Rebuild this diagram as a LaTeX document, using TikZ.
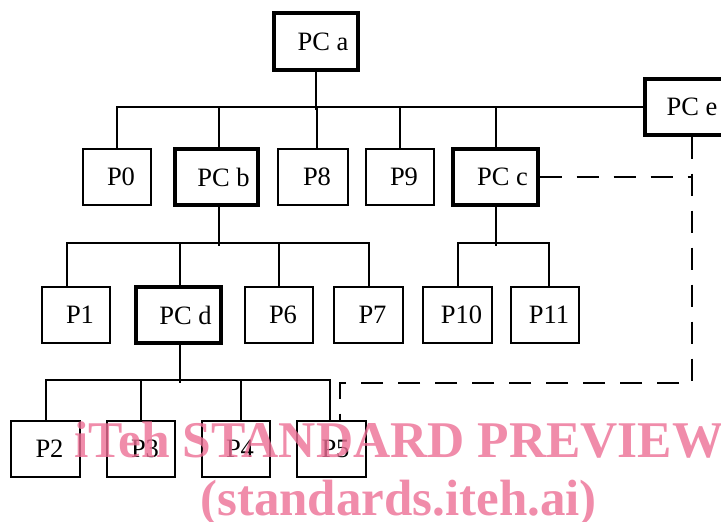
\documentclass[tikz,border=0pt]{standalone}
\usepackage{fontspec}
\setmainfont{Liberation Serif}
\usetikzlibrary{calc}
\definecolor{wmpink}{RGB}{236,111,149}
\tikzset{
  boxbase/.style={draw, line width=2pt, minimum height=56pt, inner sep=0pt,
    font=\fontsize{26.5}{30}\selectfont},
  plainbox/.style={boxbase, execute at begin node={\hspace*{8pt}}},
  pcbox/.style={boxbase, line width=3.3pt, execute at begin node={\hspace*{14pt}}},
  pcebox/.style={boxbase, line width=3.3pt},
  conn/.style={line width=2pt},
  dashconn/.style={line width=2pt, dash pattern=on 22pt off 15pt},
  wm/.style={text=wmpink, text opacity=0.8, font=\fontsize{51}{60}\selectfont\bfseries, inner sep=0pt, anchor=base west}
}
\begin{document}
\begin{tikzpicture}[x=1pt,y=-1pt]
\useasboundingbox (0,0) rectangle (721,522);
\clip (0,0) rectangle (721,522);
% top
\node[pcbox, minimum width=84pt, minimum height=57pt] (PCa) at (316,41.5) {PC a};
\node[pcebox, minimum width=94pt] (PCe) at (692,107) {PC e};
% row 1
\node[plainbox, minimum width=68pt] (P0) at (117,177) {P0};
\node[pcbox, minimum width=83pt] (PCb) at (216.5,177) {PC b};
\node[plainbox, minimum width=70pt] (P8) at (313,177) {P8};
\node[plainbox, minimum width=68pt] (P9) at (400,177) {P9};
\node[pcbox, minimum width=85pt] (PCc) at (495.5,177) {PC c};
% row 2
\node[plainbox, minimum width=68pt] (P1) at (76,315) {P1};
\node[pcbox, minimum width=85pt] (PCd) at (178.5,315) {PC d};
\node[plainbox, minimum width=68pt] (P6) at (279,315) {P6};
\node[plainbox, minimum width=69pt] (P7) at (368.5,315) {P7};
\node[plainbox, minimum width=69pt] (P10) at (457.5,315) {P10};
\node[plainbox, minimum width=68pt] (P11) at (545,315) {P11};
% row 3
\node[plainbox, minimum width=69pt] (P2) at (45.5,449) {P2};
\node[plainbox, minimum width=68pt] (P3) at (141,449) {P3};
\node[plainbox, minimum width=68pt] (P4) at (236,449) {P4};
\node[plainbox, minimum width=69pt] (P5) at (331.5,449) {P5};
% tree from PC a
\draw[conn] (PCa.south) -- ++(0,38);
\draw[conn] (P0.north) |- (PCe.west);
\draw[conn] ($(PCb.north)+(2.5,0)$) -- ++(0,-41);
\draw[conn] ($(P8.north)+(4,0)$) -- ++(0,-41);
\draw[conn] (P9.north) -- ++(0,-41);
\draw[conn] (PCc.north) -- ++(0,-41);
% tree from PC b
\draw[conn] ($(PCb.south)+(2.5,0)$) -- ++(0,39);
\draw[conn] ($(P1.north)+(-9,0)$) -- ++(0,-43) -| (P7.north);
\draw[conn] ($(PCd.north)+(1.5,0)$) -- ++(0,-43);
\draw[conn] (P6.north) -- ++(0,-43);
% tree from PC c
\draw[conn] (PCc.south) -- ++(0,39);
\draw[conn] (P10.north) -- ++(0,-43) -| ($(P11.north)+(4,0)$);
% tree from PC d
\draw[conn] ($(PCd.south)+(1.5,0)$) -- ++(0,38);
\draw[conn] (P2.north) -- ++(0,-40) -| ($(P5.north)+(-1.5,0)$);
\draw[conn] (P3.north) -- ++(0,-40);
\draw[conn] ($(P4.north)+(5,0)$) -- ++(0,-40);
% dashed links
\draw[dashconn] (PCc.east) -- (PCc.east -| PCe.south);
\draw[dashconn] (PCe.south) -- ++(0,246) -| ($(P5.north)+(8.5,0)$);
% watermark
\node[wm, font=\fontsize{51.5}{60}\selectfont\bfseries] (wm1) at (74,457) {iTeh STANDARD PREVIEW};
\node[wm] (wm2) at (200,515) {(standards.iteh.ai)};
\end{tikzpicture}
\end{document}
